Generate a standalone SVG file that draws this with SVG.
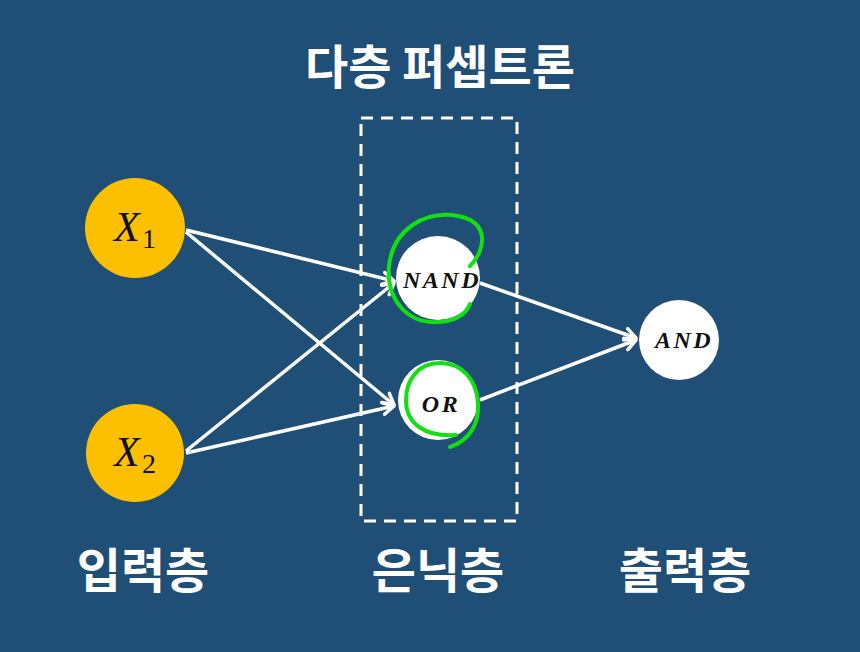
<svg xmlns="http://www.w3.org/2000/svg" width="860" height="652" viewBox="0 0 860 652">
<defs>
<style>
.kr{font-family:"Noto Sans CJK KR","Noto Sans",sans-serif;font-weight:bold;fill:#ffffff;text-anchor:middle}
.inp{fill:#fdc000}
.hid{fill:#ffffff}
.var{font-family:"Liberation Serif",serif;font-style:italic;fill:#111111}
.sub{font-family:"Liberation Serif",serif;fill:#111111}
.gate{font-family:"Liberation Serif",serif;font-style:italic;font-weight:bold;fill:#111111;text-anchor:middle;letter-spacing:2.5px}
.edge{stroke:#ffffff;stroke-width:3.5;fill:none;marker-end:url(#arr)}
.scribble{stroke:#11e011;stroke-width:4;fill:none;stroke-linecap:round;stroke-linejoin:round}
</style>
<marker id="arr" markerWidth="16" markerHeight="16" refX="13" refY="8" orient="auto" markerUnits="userSpaceOnUse">
<path d="M2,2 L13,8 L2,14" fill="none" stroke="#ffffff" stroke-width="3.5" stroke-linecap="round" stroke-linejoin="round"/>
</marker>
</defs>
<rect width="860" height="652" fill="#1f4e76"/>
<text class="kr" x="440" y="84" font-size="47">다층 퍼셉트론</text>
<rect id="hidden-box" x="361" y="118" width="156" height="403" fill="none" stroke="#ffffff" stroke-width="3" stroke-dasharray="12,8"/>
<g id="connectors">
<line class="edge" x1="186" y1="230" x2="394" y2="281"/>
<line class="edge" x1="186" y1="232" x2="394" y2="405"/>
<line class="edge" x1="186" y1="451" x2="394" y2="283"/>
<line class="edge" x1="186" y1="453" x2="394" y2="406"/>
<line class="edge" x1="480" y1="283" x2="636" y2="338"/>
<line class="edge" x1="480" y1="400" x2="636" y2="340"/>
</g>
<g id="x1">
<circle class="inp" cx="135" cy="228" r="50"/>
<text class="var" x="114" y="241" font-size="42">X</text>
<text class="sub" x="142" y="248" font-size="28">1</text>
</g>
<g id="x2">
<circle class="inp" cx="135" cy="453" r="49"/>
<text class="var" x="114" y="466" font-size="42">X</text>
<text class="sub" x="142" y="473" font-size="28">2</text>
</g>
<g id="nand">
<circle class="hid" cx="438" cy="278" r="42"/>
<text class="gate" x="442" y="288" font-size="24">NAND</text>
<path class="scribble" d="M470 266 C486 250 490 222 458 216 C424 210 393 230 389 266 C386 300 408 324 438 322 C456 321 466 314 470 304"/>
</g>
<g id="or">
<circle class="hid" cx="438" cy="400" r="40"/>
<text class="gate" x="441" y="412" font-size="24">OR</text>
<path class="scribble" d="M450 447 C470 440 479 424 478 404 C477 380 462 363 440 363 C418 363 406 380 406 400 C406 424 425 437 456 435"/>
</g>
<g id="and">
<circle class="hid" cx="679" cy="340" r="40"/>
<text class="gate" x="684" y="348" font-size="24">AND</text>
</g>
<text class="kr" x="143" y="588" font-size="48">입력층</text>
<text class="kr" x="438" y="588" font-size="48">은닉층</text>
<text class="kr" x="685" y="588" font-size="48">출력층</text>
</svg>
